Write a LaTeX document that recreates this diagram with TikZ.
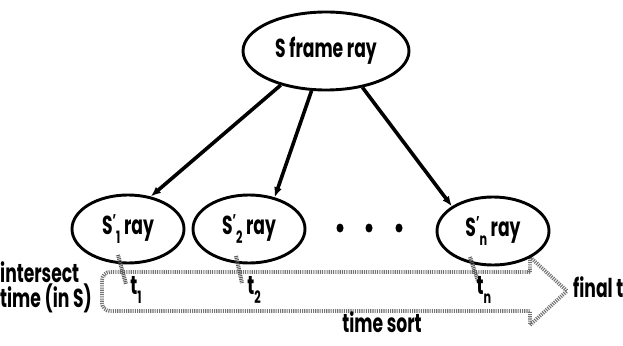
\documentclass[tikz,border=0pt]{standalone}
\usepackage{fontspec}
\setmainfont{Poppins}[FakeStretch=0.66]
\usetikzlibrary{arrows.meta,shapes.geometric}
\newcommand{\subl}[1]{\raisebox{-0.35em}{\fontsize{17}{17}\selectfont #1}}
\newcommand{\prm}{\raisebox{0.3em}{\fontsize{17}{17}\selectfont '}}
\begin{document}
\begin{tikzpicture}[x=1pt,y=-1pt,
  oval/.style={ellipse, draw, line width=2.9pt, minimum width=112pt, minimum height=68pt, inner sep=0pt, font=\bfseries\fontsize{26}{28}\selectfont},
  lbl/.style={font=\bfseries\fontsize{26}{28}\selectfont, inner sep=0pt},
  conn/.style={line width=3.6pt, -{Latex[length=10pt,width=8pt]}},
  hatch/.style={line width=3.8pt, draw=black!55, dash pattern=on 1.1pt off 1.1pt},
  tickmark/.style={line width=4pt, draw=black!65, dash pattern=on 1pt off 0.8pt},
  dot/.style={ellipse, fill, minimum width=7pt, minimum height=9pt, inner sep=0pt}]
\useasboundingbox (0,0) rectangle (623,345);
% hatched arrow
\draw[hatch] (530,272) [rounded corners=8pt] -- (102,272) -- (102,311) -- (300,311) [sharp corners] -- (530,311) -- (530,325) -- (567,291) -- (530,257) -- cycle;
% nodes
\node[oval, minimum width=166pt, minimum height=78pt] (top) at (326,51) {S frame ray};
\node[oval] (s1) at (128,229) {S\prm\subl{1} ray};
\node[oval] (s2) at (249,229) {S\prm\subl{2} ray};
\node[oval] (sn) at (493,231) {S\prm\subl{n} ray};
\node[dot] (d1) at (340,228) {};
\node[dot] (d2) at (369,228) {};
\node[dot] (d3) at (399,228) {};
% connectors
\draw[conn] (top.217) -- (s1.55);
\draw[conn] (top.250) -- (s2.51);
\draw[conn] (top.315) -- (sn.149);
% ticks
\coordinate (k1a) at (118,255); \coordinate (k1b) at (126,284);
\coordinate (k2a) at (236,256); \coordinate (k2b) at (242,283);
\coordinate (kna) at (470,257); \coordinate (knb) at (478,281);
\draw[tickmark] (k1a) -- (k1b);
\draw[tickmark] (k2a) -- (k2b);
\draw[tickmark] (kna) -- (knb);
% labels
\node[lbl] (t1) at (136,290) {t\subl{1}};
\node[lbl] (t2) at (254,290) {t\subl{2}};
\node[lbl] (tn) at (484,290) {t\subl{n}};
\node[lbl, anchor=west] (i1) at (0,272) {intersect};
\node[lbl, anchor=west] (i2) at (0,298) {time (in S)};
\node[lbl, anchor=west] (ft) at (573,287) {final t};
\node[lbl] (ts) at (382,322) {time sort};
\end{tikzpicture}
\end{document}
